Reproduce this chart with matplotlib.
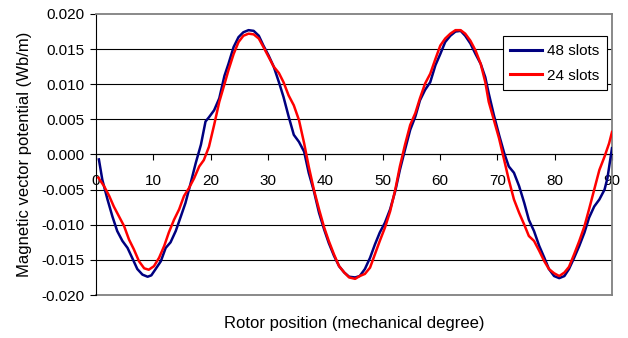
import numpy as np
import matplotlib
matplotlib.use("Agg")
import matplotlib.pyplot as plt
from matplotlib.ticker import FormatStrFormatter

plt.rcParams["font.family"] = ["Liberation Sans", "DejaVu Sans"]
plt.rcParams["axes.unicode_minus"] = False

# rotor position (mechanical degree)
pos_48 = [0.5, 1.1, 2.0, 2.85, 3.7, 4.6, 5.5, 6.3, 7.2, 8.1, 9.0, 9.65, 10.4, 11.3,
          12.15, 13.0, 13.9, 14.8, 15.6, 16.5, 17.4, 18.3, 19.1, 19.7, 20.6, 21.5,
          22.4, 23.1, 24.0, 24.85, 25.7, 26.6, 27.5, 28.4, 29.2, 30.1, 31.0, 31.9,
          32.7, 33.6, 34.5, 35.4, 36.3, 37.1, 38.0, 38.9, 39.8, 40.6, 41.5, 42.4,
          43.3, 44.15, 45.2, 46.0, 46.9, 47.8, 48.65, 49.5, 50.4, 51.3, 52.2, 53.0,
          53.9, 54.8, 55.7, 56.5, 57.4, 58.3, 59.2, 60.05, 60.9, 61.8, 62.7, 63.6,
          64.4, 65.3, 66.2, 67.1, 67.9, 68.5, 69.4, 70.3, 71.2, 72.0, 72.9, 73.8,
          74.7, 75.5, 76.4, 77.3, 78.2, 79.0, 79.9, 80.8, 81.7, 82.5, 83.4, 84.3,
          85.2, 86.0, 86.9, 87.8, 88.7, 89.2, 90.0]
slots_48 = [-0.0007, -0.0036, -0.0064, -0.0088, -0.0109, -0.0123, -0.0133, -0.0147,
            -0.0163, -0.0171, -0.0174, -0.0172, -0.0163, -0.0152, -0.0133, -0.0125,
            -0.0109, -0.0088, -0.0069, -0.0041, -0.0012, 0.0014, 0.0047, 0.0053,
            0.0063, 0.0080, 0.0112, 0.0129, 0.0153, 0.0167, 0.0174, 0.0177, 0.0176,
            0.0169, 0.0155, 0.0141, 0.0125, 0.0103, 0.0082, 0.0054, 0.0028, 0.0018,
            0.0004, -0.0026, -0.0052, -0.0083, -0.0107, -0.0126, -0.0144, -0.0159,
            -0.0168, -0.0174, -0.0175, -0.0173, -0.0163, -0.0147, -0.0128, -0.0111,
            -0.0097, -0.0078, -0.0052, -0.0022, 0.0007, 0.0035, 0.0054, 0.0077,
            0.0092, 0.0103, 0.0127, 0.0143, 0.0160, 0.0169, 0.0175, 0.0176, 0.0169,
            0.0158, 0.0143, 0.0129, 0.0110, 0.0087, 0.0056, 0.0028, 0.0002, -0.0017,
            -0.0026, -0.0045, -0.0069, -0.0093, -0.0109, -0.0130, -0.0147, -0.0163,
            -0.0173, -0.0176, -0.0173, -0.0163, -0.0147, -0.0130, -0.0111, -0.0090,
            -0.0074, -0.0064, -0.0050, -0.0034, 0.0009]

pos_24 = [0.4, 1.4, 2.3, 3.1, 4.0, 4.9, 5.75, 6.6, 7.5, 8.4, 9.2, 10.1, 11.0, 11.9,
          12.7, 13.6, 14.5, 15.35, 16.2, 17.1, 18.0, 18.8, 19.7, 20.6, 21.5, 22.4,
          23.1, 24.0, 24.85, 25.7, 26.6, 27.5, 28.4, 29.2, 30.1, 31.0, 31.9, 32.7,
          33.6, 34.5, 35.4, 36.3, 37.1, 38.0, 38.9, 39.8, 40.6, 41.5, 42.4, 43.3,
          44.15, 45.2, 46.0, 46.9, 47.8, 48.65, 49.5, 50.4, 51.3, 52.2, 53.0, 53.9,
          54.8, 55.7, 56.5, 57.4, 58.3, 59.2, 60.05, 60.9, 61.8, 62.7, 63.6, 64.4,
          65.3, 66.2, 67.1, 67.9, 68.5, 69.4, 70.3, 71.2, 72.0, 72.9, 73.8, 74.7,
          75.5, 76.4, 77.3, 78.2, 79.0, 79.9, 80.8, 81.7, 82.5, 83.4, 84.3, 85.2,
          86.0, 86.9, 87.8, 88.7, 89.5, 90.0]
slots_24 = [-0.0033, -0.0045, -0.0059, -0.0074, -0.0088, -0.0102, -0.0121, -0.0135,
            -0.0152, -0.0162, -0.0164, -0.0159, -0.0147, -0.0130, -0.0111, -0.0093,
            -0.0078, -0.0059, -0.0048, -0.0034, -0.0017, -0.0008, 0.0011, 0.0042,
            0.0075, 0.0100, 0.0120, 0.0143, 0.0160, 0.0169, 0.0172, 0.0171, 0.0165,
            0.0153, 0.0139, 0.0125, 0.0116, 0.0103, 0.0084, 0.0070, 0.0049, 0.0016,
            -0.0017, -0.0050, -0.0078, -0.0104, -0.0123, -0.0142, -0.0159, -0.0168,
            -0.0175, -0.0177, -0.0173, -0.0170, -0.0161, -0.0142, -0.0123, -0.0104,
            -0.0081, -0.0050, -0.0017, 0.0014, 0.0042, 0.0059, 0.0080, 0.0101,
            0.0115, 0.0136, 0.0155, 0.0165, 0.0172, 0.0177, 0.0177, 0.0172, 0.0162,
            0.0148, 0.0129, 0.0103, 0.0075, 0.0049, 0.0023, -0.0008, -0.0036, -0.0064,
            -0.0083, -0.0100, -0.0116, -0.0123, -0.0137, -0.0152, -0.0163, -0.0169,
            -0.0173, -0.0168, -0.0160, -0.0142, -0.0123, -0.0102, -0.0078, -0.0050,
            -0.0022, -0.0003, 0.0016, 0.0032]

x_ticks = list(range(0, 91, 10))
y_ticks = [-0.020, -0.015, -0.010, -0.005, 0.000, 0.005, 0.010, 0.015, 0.020]

fig = plt.figure(figsize=(6.28, 3.38), dpi=100)
ax = fig.add_axes([0.1529, 0.1272, 0.8216, 0.8314])

for v in y_ticks[1:-1]:
    ax.axhline(v, color="black", lw=0.8, zorder=0.5)
ax.axhline(y_ticks[0], color="#808080", lw=1.3, zorder=0.6, clip_on=False)

ax.plot(pos_48, slots_48, color="#000080", lw=1.8, label="48 slots", zorder=3)
ax.plot(pos_24, slots_24, color="#ff0000", lw=1.8, label="24 slots", zorder=3.1)

ax.set_xlim(0, 90)
ax.set_ylim(-0.020, 0.020)
ax.set_xticks(x_ticks)
ax.set_yticks(y_ticks)
ax.yaxis.set_major_formatter(FormatStrFormatter("%.3f"))

ax.spines["bottom"].set_position(("data", 0))
ax.spines["bottom"].set_color("black")
ax.spines["left"].set_color("black")
for s in ("top", "right"):
    ax.spines[s].set_color("#808080")
    ax.spines[s].set_linewidth(1.3)

ax.tick_params(axis="x", direction="out", length=4, width=0.8, pad=10, labelsize=11)
ax.tick_params(axis="y", direction="out", length=4, width=0.8, pad=4, labelsize=11)

ax.set_xlabel("Rotor position (mechanical degree)", fontsize=12)
ax.xaxis.set_label_coords(0.5, -0.074)
ax.set_ylabel("Magnetic vector potential (Wb/m)", fontsize=12)
ax.yaxis.set_label_coords(-0.125, 0.5)

leg = ax.legend(loc="upper right", bbox_to_anchor=(0.99, 0.92), fontsize=11,
                frameon=True, fancybox=False, edgecolor="black", framealpha=1,
                handlelength=2.1, handletextpad=0.3, labelspacing=0.7,
                borderpad=0.5, borderaxespad=0)
leg.get_frame().set_linewidth(0.8)
for line in leg.get_lines():
    line.set_linewidth(2.2)

fig.savefig("out.png", dpi=100)
